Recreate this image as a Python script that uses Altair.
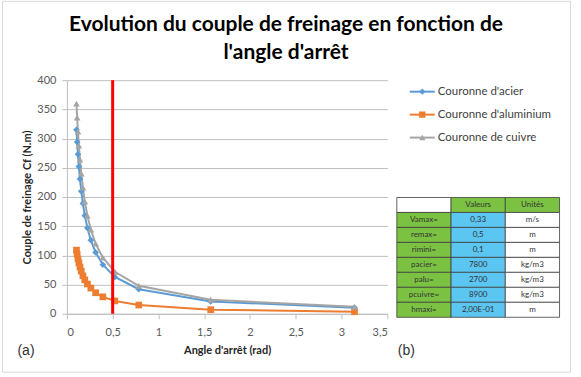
import altair as alt
import pandas as pd

# ---------------- data ----------------
SERIES = ["Couronne d'acier", "Couronne d'aluminium", "Couronne de cuivre"]
ANGLES = [0.105, 0.112, 0.121, 0.131, 0.143, 0.157, 0.175, 0.196, 0.224,
          0.262, 0.314, 0.393, 0.524, 0.785, 1.571, 3.142]
ACIER = [315, 294, 273, 252, 231, 210, 189, 168, 147, 126, 105, 84, 63, 42, 21, 10.5]
ALUMINIUM = [109, 102, 94, 87, 80, 73, 65, 58, 51, 44, 36, 29, 22, 15, 7, 3.5]
CUIVRE = [360, 336, 312, 288, 264, 240, 216, 192, 168, 144, 120, 96, 72, 48, 24, 12]
ANGLE_LIMITE = [0.5]
X_TICKS = [0, 0.5, 1, 1.5, 2, 2.5, 3, 3.5]
Y_TICKS = [0, 50, 100, 150, 200, 250, 300, 350, 400]

TITLE_LINES = ["Evolution du couple de freinage en fonction de", "l'angle d'arrêt"]
X_TITLE = "Angle d'arrêt (rad)"
Y_TITLE = "Couple de freinage Cf (N.m)"

TABLE_HEADER = ["", "Valeurs", "Unités"]
PARAMS = ["Vamax=", "remax=", "rimini=", "pacier=", "palu=", "pcuivre=", "hmaxi="]
VALEURS = ["0,33", "0,5", "0,1", "7800", "2700", "8900", "2,00E-01"]
UNITES = ["m/s", "m", "m", "kg/m3", "kg/m3", "kg/m3", "m"]

# ---------------- styles ----------------
COLORS = ["#5B9BD5", "#ED7D31", "#A5A5A5"]
SHAPES = ["diamond", "square", "triangle-up"]
FONT = "Lato"
W, H = 321, 234
GRID = "#BFBFBF"

df = pd.DataFrame({
    "angle": ANGLES * 3,
    "cf": ACIER + ALUMINIUM + CUIVRE,
    "serie": [SERIES[0]] * len(ANGLES) + [SERIES[1]] * len(ANGLES) + [SERIES[2]] * len(ANGLES),
})

color_scale = alt.Scale(domain=SERIES, range=COLORS)
shape_scale = alt.Scale(domain=SERIES, range=SHAPES)

x_enc = alt.X("angle:Q", scale=alt.Scale(domain=[0, 3.5], nice=False),
              axis=alt.Axis(values=X_TICKS, grid=False, title=X_TITLE,
                            labelExpr="replace(toString(datum.value), '.', ',')",
                            labelFont=FONT, labelFontSize=11, labelColor="#595959",
                            labelOverlap=False,
                            domainColor=GRID, tickColor=GRID, tickSize=5, labelPadding=8,
                            titleFont=FONT, titleFontSize=11, titleFontWeight="bold",
                            titleColor="#262626", titlePadding=7))
y_enc = alt.Y("cf:Q", scale=alt.Scale(domain=[0, 400], nice=False),
              axis=alt.Axis(values=Y_TICKS, grid=True, gridColor=GRID, title=Y_TITLE,
                            labelFont=FONT, labelFontSize=11, labelColor="#595959",
                            labelOverlap=False,
                            domainColor=GRID, tickColor=GRID, tickSize=5, labelPadding=6,
                            titleFont=FONT, titleFontSize=11, titleFontWeight="bold",
                            titleColor="#262626", titlePadding=4))
color_enc = alt.Color("serie:N", scale=color_scale, legend=None)
shape_enc = alt.Shape("serie:N", scale=shape_scale, legend=None)

one = pd.DataFrame({"a": [0]})

canvas = alt.Chart(one).mark_rect(opacity=0).encode(
    x=alt.value(-66.5), x2=alt.value(514.5), y=alt.value(-79.5), y2=alt.value(297.5))
frame = alt.Chart(one).mark_rect(fillOpacity=0, stroke="#D9D9D9", strokeWidth=1).encode(
    x=alt.value(-64.5), x2=alt.value(504.5), y=alt.value(-79), y2=alt.value(292.5))

lines = alt.Chart(df).mark_line(strokeWidth=2).encode(x=x_enc, y=y_enc, color=color_enc)
points = alt.Chart(df).mark_point(filled=True, size=45, opacity=1).encode(
    x=x_enc, y=y_enc, color=color_enc, shape=shape_enc)
rule = alt.Chart(pd.DataFrame({"angle": ANGLE_LIMITE})).mark_rule(
    color="#FF0000", strokeWidth=3).encode(x=x_enc)

title = alt.Chart(one).mark_text(
    text=TITLE_LINES, font=FONT, fontSize=21, fontWeight="bold", align="center",
    baseline="alphabetic", lineHeight=28, color="#000000").encode(
    x=alt.value(219.5), y=alt.value(-49))
label_a = alt.Chart(pd.DataFrame({"t": ["(a)"]})).mark_text(
    font="Liberation Sans", fontSize=14, align="left", baseline="middle", color="#333333").encode(
    text="t:N", x=alt.value(-49.5), y=alt.value(271.5))
label_b = alt.Chart(pd.DataFrame({"t": ["(b)"]})).mark_text(
    font="Liberation Sans", fontSize=14, align="left", baseline="middle", color="#333333").encode(
    text="t:N", x=alt.value(331.5), y=alt.value(271.5))

left = alt.layer(canvas, frame, lines, points, rule, title, label_a, label_b).properties(
    width=W, height=H)

# ---------------- legend (drawn as marks) ----------------
leg_df = pd.DataFrame({"serie": SERIES})
ly = alt.Y("serie:N", scale=alt.Scale(domain=SERIES), axis=None)
leg_line = alt.Chart(leg_df).mark_rule(strokeWidth=2).encode(
    y=ly, x=alt.value(13), x2=alt.value(38), color=color_enc)
leg_pt = alt.Chart(leg_df).mark_point(filled=True, size=40, opacity=1).encode(
    y=ly, x=alt.value(25.5), color=color_enc, shape=shape_enc)
leg_txt = alt.Chart(leg_df).mark_text(
    align="left", baseline="middle", font=FONT, fontSize=11.5, color="#404040").encode(
    y=ly, x=alt.value(41), text="serie:N")
legend_chart = alt.layer(leg_line, leg_pt, leg_txt).properties(width=163, height=69)

# ---------------- table ----------------
COLS = ["c0", "c1", "c2"]
ROWS = ["r%d" % i for i in range(len(PARAMS) + 1)]
cells = []
for j, txt in enumerate(TABLE_HEADER):
    cells.append({"row": ROWS[0], "col": COLS[j], "txt": txt,
                  "kind": "blank" if j == 0 else "head"})
for i in range(len(PARAMS)):
    cells.append({"row": ROWS[i + 1], "col": COLS[0], "txt": PARAMS[i], "kind": "param"})
    cells.append({"row": ROWS[i + 1], "col": COLS[1], "txt": VALEURS[i], "kind": "value"})
    cells.append({"row": ROWS[i + 1], "col": COLS[2], "txt": UNITES[i], "kind": "unit"})
tdf = pd.DataFrame(cells)

KINDS = ["blank", "head", "param", "value", "unit"]
KIND_COLORS = ["#FFFFFF", "#7CC242", "#7CC242", "#5CC6F2", "#FFFFFF"]

tx = alt.X("col:N", scale=alt.Scale(type="band", domain=COLS, paddingInner=0, paddingOuter=0), axis=None)
ty = alt.Y("row:N", scale=alt.Scale(type="band", domain=ROWS, paddingInner=0, paddingOuter=0), axis=None)
t_cells = alt.Chart(tdf).mark_rect(stroke="#3F3F3F", strokeWidth=0.8).encode(
    x=tx, y=ty, fill=alt.Fill("kind:N", scale=alt.Scale(domain=KINDS, range=KIND_COLORS), legend=None))
t_txt = alt.Chart(tdf).mark_text(font=FONT, fontSize=8, color="#333333").encode(
    x=tx, y=ty, text="txt:N")
table_chart = alt.layer(t_cells, t_txt).properties(width=163, height=120)

right = alt.vconcat(legend_chart, table_chart, spacing=48.5, bounds="flush")

chart = alt.hconcat(left, right, spacing=9.5, bounds="flush").properties(
    padding=0, autosize=alt.AutoSizeParams(type="pad")
).configure(font=FONT).configure_view(stroke=None)

chart.save("out.html", embed_options={"renderer": "svg", "actions": False})
